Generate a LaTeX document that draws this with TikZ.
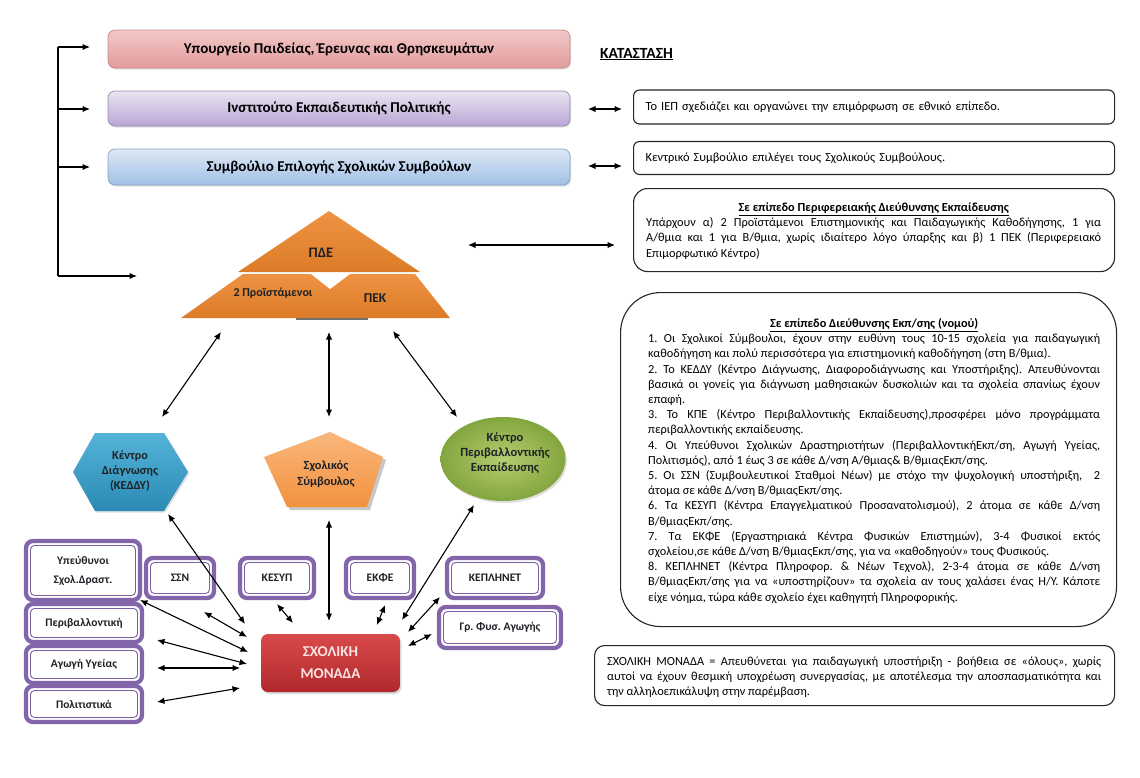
\documentclass[tikz,border=0pt]{standalone}
\usepackage{fontspec}
\setmainfont{Carlito}
\frenchspacing
\usetikzlibrary{arrows.meta,shapes.geometric,shadings,shadows}
\definecolor{pkT}{HTML}{F3C7C7}
\definecolor{pkB}{HTML}{E29C9C}
\definecolor{pkD}{HTML}{C98A8A}
\definecolor{puT}{HTML}{E9E5F1}
\definecolor{puB}{HTML}{B9A5D5}
\definecolor{puD}{HTML}{9A8AAE}
\definecolor{blT}{HTML}{DEE8F6}
\definecolor{blB}{HTML}{A0C0E6}
\definecolor{blD}{HTML}{8AA2C0}
\definecolor{orT}{HTML}{EE9343}
\definecolor{orB}{HTML}{DC7B27}
\definecolor{hxT}{HTML}{55B3D9}
\definecolor{hxB}{HTML}{2A8AB4}
\definecolor{peT}{HTML}{F9B77C}
\definecolor{peB}{HTML}{F3913F}
\definecolor{grI}{HTML}{B4CE70}
\definecolor{grO}{HTML}{83A53E}
\definecolor{rdT}{HTML}{D94A4A}
\definecolor{rdB}{HTML}{B0282C}
\definecolor{rdText}{HTML}{FBE2E2}
\definecolor{pfc}{HTML}{8366AA}
\definecolor{pfc2}{HTML}{7A5FA3}
\definecolor{txtd}{HTML}{1E2226}
\newcommand\pfbox[6]{%
  \node[pframe, minimum width=#4pt, minimum height=#5pt] (#1) at (#2,#3) {};
  \node[pinner, minimum width={#4-9}, minimum height={#5-9}] (#1t) at (#2,#3) {#6};
}
\begin{document}
\begin{tikzpicture}[x=1pt,y=-1pt,
  topbox/.style={rounded corners=7pt, minimum width=462pt, text=black, inner sep=0pt,
    font=\bfseries\fontsize{15}{18}\selectfont, line width=0.7pt,
    drop shadow={shadow xshift=1pt, shadow yshift=-1.5pt, opacity=0.25}},
  rbox/.style={draw=black!85, line width=1.1pt, fill=white},
  body/.style={font=\fontsize{12.3}{15.2}\selectfont, inner sep=0pt, align=justify},
  arr/.style={{Latex[length=7.5pt,width=6.5pt]}-{Latex[length=7.5pt,width=6.5pt]}, line width=1.1pt},
  rarr/.style={-{Latex[length=7.5pt,width=6.5pt]}, line width=1.1pt},
  pframe/.style={draw=pfc, line width=4.3pt, rounded corners=7pt, fill=white, inner sep=0pt},
  pinner/.style={draw=pfc2, line width=0.9pt, rounded corners=4pt, align=center, inner sep=0pt,
    text=txtd, font=\bfseries\fontsize{11.5}{19}\selectfont},
  lbl/.style={font=\bfseries\fontsize{12.2}{15}\selectfont, align=center, text=txtd, inner sep=0pt},
  pyr/.style={font=\bfseries\fontsize{14.5}{16}\selectfont, text=txtd, inner sep=0pt}
]
\useasboundingbox (0,0) rectangle (1140,777);

% ---------- top three boxes ----------
\node[topbox, top color=pkT, bottom color=pkB, draw=pkD, minimum height=38pt] (min) at (339,49)
  {Υπουργείο Παιδείας, Έρευνας και Θρησκευμάτων};
\node[topbox, top color=puT, bottom color=puB, draw=puD, minimum height=35pt] (iep) at (339,108.5)
  {Ινστιτούτο Εκπαιδευτικής Πολιτικής};
\node[topbox, top color=blT, bottom color=blB, draw=blD, minimum height=36pt] (sess) at (339,167)
  {Συμβούλιο Επιλογής Σχολικών Συμβούλων};

% ---------- left bracket ----------
\coordinate (brT) at (58,47);
\coordinate (brB) at (58,276);
\coordinate (br2) at (58,109);
\coordinate (br3) at (58,167);
\coordinate (e1) at (90,47);
\coordinate (e2) at (90,109);
\coordinate (e3) at (90,167);
\coordinate (e4) at (137,276);
\draw[line width=1.1pt] (brT) -- (brB);
\draw[rarr] (brT) -- (e1);
\draw[rarr] (br2) -- (e2);
\draw[rarr] (br3) -- (e3);
\draw[rarr] (brB) -- (e4);

% ---------- title ----------
\node[font=\bfseries\fontsize{15.5}{18}\selectfont, anchor=west, inner sep=0pt] (kat) at (600,54) {\underline{ΚΑΤΑΣΤΑΣΗ}};

% ---------- right boxes ----------
\node[rbox, rounded corners=6pt, anchor=west, minimum height=34pt, text width=457pt, inner xsep=12pt,
  font=\fontsize{12.4}{15}\selectfont, align=left] (r1) at (633,107)
  {Το ΙΕΠ σχεδιάζει και οργανώνει την επιμόρφωση σε εθνικό επίπεδο.};
\node[rbox, rounded corners=6pt, anchor=west, minimum height=33pt, text width=457pt, inner xsep=12pt,
  font=\fontsize{12.4}{15}\selectfont, align=left] (r2) at (633,158)
  {Κεντρικό Συμβούλιο επιλέγει τους Σχολικούς Συμβούλους.};
\node[rbox, rounded corners=14pt, anchor=north west, minimum width=481pt, minimum height=83pt] (r3) at (633,188) {};
\node[body, text width=455pt, anchor=base west] (r3t) at (646,211.5) {%
\centerline{\bfseries\underline{Σε επίπεδο Περιφερειακής Διεύθυνσης Εκπαίδευσης}}
Υπάρχουν α) 2 Προϊστάμενοι Επιστημονικής και Παιδαγωγικής Καθοδήγησης, 1 για\linebreak
Α/θμια και 1 για Β/θμια, χωρίς ιδιαίτερο λόγο ύπαρξης και β) 1 ΠΕΚ (Περιφερειακό\linebreak
Επιμορφωτικό Κέντρο)};

\coordinate (a1l) at (588,109);
\coordinate (a1r) at (622,109);
\coordinate (a2l) at (588,166);
\coordinate (a2r) at (622,166);
\coordinate (a3l) at (468,245);
\coordinate (a3r) at (615,245);
\draw[arr] (a1l) -- (a1r);
\draw[arr] (a2l) -- (a2r);
\draw[arr] (a3l) -- (a3r);

% ---------- big box ----------
\node[rbox, rounded corners=40pt, anchor=north west, minimum width=496pt, minimum height=334pt] (big) at (620,292) {};
\node[body, text width=452pt, anchor=base west] (bigt) at (648,327.5) {%
\centerline{\bfseries\underline{Σε επίπεδο Διεύθυνσης Εκπ/σης (νομού)}}
1. Οι Σχολικοί Σύμβουλοι, έχουν στην ευθύνη τους 10-15 σχολεία για παιδαγωγική\linebreak
καθοδήγηση και πολύ περισσότερα για επιστημονική καθοδήγηση (στη Β/θμια).\par
2. Το ΚΕΔΔΥ (Κέντρο Διάγνωσης, Διαφοροδιάγνωσης και Υποστήριξης). Απευθύνονται\linebreak
βασικά οι γονείς για διάγνωση μαθησιακών δυσκολιών και τα σχολεία σπανίως έχουν\linebreak
επαφή.\par
3. Το ΚΠΕ (Κέντρο Περιβαλλοντικής Εκπαίδευσης),προσφέρει μόνο προγράμματα\linebreak
περιβαλλοντικής εκπαίδευσης.\par
4. Οι Υπεύθυνοι Σχολικών Δραστηριοτήτων (ΠεριβαλλοντικήΕκπ/ση, Αγωγή Υγείας,\linebreak
Πολιτισμός), από 1 έως 3 σε κάθε Δ/νση Α/θμιας\& Β/θμιαςΕκπ/σης.\par
5. Οι ΣΣΝ (Συμβουλευτικοί Σταθμοί Νέων) με στόχο την ψυχολογική υποστήριξη, \ 2\linebreak
άτομα σε κάθε Δ/νση Β/θμιαςΕκπ/σης.\par
6. Τα ΚΕΣΥΠ (Κέντρα Επαγγελματικού Προσανατολισμού), 2 άτομα σε κάθε Δ/νση\linebreak
Β/θμιαςΕκπ/σης.\par
7. Τα ΕΚΦΕ (Εργαστηριακά Κέντρα Φυσικών Επιστημών), 3-4 Φυσικοί εκτός\linebreak
σχολείου,σε κάθε Δ/νση Β/θμιαςΕκπ/σης, για να «καθοδηγούν» τους Φυσικούς.\par
8. ΚΕΠΛΗΝΕΤ (Κέντρα Πληροφορ. \& Νέων Τεχνολ), 2-3-4 άτομα σε κάθε Δ/νση\linebreak
Β/θμιαςΕκπ/σης για να «υποστηρίζουν» τα σχολεία αν τους χαλάσει ένας Η/Υ. Κάποτε\linebreak
είχε νόημα, τώρα κάθε σχολείο έχει καθηγητή Πληροφορικής.};

% ---------- bottom right box ----------
\node[rbox, rounded corners=10pt, anchor=north west, minimum width=520pt, minimum height=60pt] (sb) at (594,645) {};
\node[body, text width=494pt, anchor=base west] (sbt) at (607,665) {%
ΣΧΟΛΙΚΗ ΜΟΝΑΔΑ = Απευθύνεται για παιδαγωγική υποστήριξη - βοήθεια σε «όλους», χωρίς\linebreak
αυτοί να έχουν θεσμική υποχρέωση συνεργασίας, με αποτέλεσμα την αποσπασματικότητα και\linebreak
την αλληλοεπικάλυψη στην παρέμβαση.};

% ---------- pyramid ----------
\shade[top color=orT, bottom color=orB] (329,211) -- (420,272) -- (238,272) -- cycle;
\shade[top color=orT, bottom color=orB] (243,274) -- (415,274) -- (450,318) -- (181,318) -- cycle;
\fill[white] (311,274) -- (350,274) -- (330,289) -- cycle;
\draw[black!55, line width=2pt] (296,318.5) -- (368,318.5);
\node[pyr] (pde) at (321,253) {ΠΔΕ};
\node[pyr, font=\bfseries\fontsize{12}{14}\selectfont] (pro) at (273,293) {2 Προϊστάμενοι};
\node[pyr, font=\bfseries\fontsize{13.5}{16}\selectfont] (pek) at (375,298) {ΠΕΚ};

% ---------- hexagon ----------
\shade[top color=hxT, bottom color=hxB, drop shadow={opacity=0.25, shadow xshift=1.5pt, shadow yshift=-1.5pt}]
  (73,472) -- (95,433) -- (164,433) -- (188,472) -- (164,511) -- (95,511) -- cycle;
\node[lbl, font=\bfseries\fontsize{12.2}{15}\selectfont] (keddy) at (130,471) {Κέντρο\\Διάγνωσης\\(ΚΕΔΔΥ)};

% ---------- pentagon ----------
\fill[black!22] (333,435) -- (386,460) -- (370,510) -- (290,510) -- (267,460) -- cycle;
\shade[top color=peT, bottom color=peB] (330,432) -- (383,457) -- (367,507) -- (287,507) -- (264,457) -- cycle;
\node[lbl, font=\bfseries\fontsize{12.4}{16}\selectfont] (ss) at (326,474) {Σχολικός\\Σύμβουλος};

% ---------- ellipse ----------
\node[ellipse, minimum width=125pt, minimum height=84pt, inner sep=0pt, inner color=grI, outer color=grO,
  drop shadow={opacity=0.25, shadow xshift=1.5pt, shadow yshift=-2pt}] (kpe) at (503,459) {};
\node[lbl, font=\bfseries\fontsize{12.5}{15}\selectfont] (kpet) at (505,453) {Κέντρο\\Περιβαλλοντικής\\Εκπαίδευσης};

% ---------- pyramid arrows ----------
\coordinate (p1a) at (221,332); \coordinate (p1b) at (162,417);
\coordinate (p2a) at (329,332); \coordinate (p2b) at (329,417);
\coordinate (p3a) at (393,331); \coordinate (p3b) at (457,417);
\draw[arr] (p1a) -- (p1b);
\draw[arr] (p2a) -- (p2b);
\draw[arr] (p3a) -- (p3b);

% ---------- school unit ----------
\node[rounded corners=7pt, top color=rdT, bottom color=rdB, minimum width=139pt, minimum height=58pt,
  text=rdText, font=\bfseries\fontsize{15}{22}\selectfont, align=center, inner sep=0pt,
  drop shadow={opacity=0.3, shadow xshift=1.5pt, shadow yshift=-2pt}] (sm) at (330.5,663) {ΣΧΟΛΙΚΗ\\ΜΟΝΑΔΑ};

% ---------- purple framed boxes ----------
\pfbox{ysd}{83}{570.5}{114}{59}{Υπεύθυνοι\\Σχολ.Δραστ.}
\pfbox{ssn}{180}{578}{68}{40}{ΣΣΝ}
\pfbox{kesyp}{277}{578}{74}{40}{ΚΕΣΥΠ}
\pfbox{ekfe}{380}{578}{68}{40}{ΕΚΦΕ}
\pfbox{kepl}{495}{578}{96}{40}{ΚΕΠΛΗΝΕΤ}
\pfbox{gfa}{500}{627.5}{122}{41}{Γρ. Φυσ. Αγωγής}
\pfbox{per}{84}{623}{116}{38}{Περιβαλλοντική}
\pfbox{agy}{84}{664.5}{116}{37}{Αγωγή Υγείας}
\pfbox{pol}{84}{704}{116}{36}{Πολιτιστικά}

% ---------- bottom arrows ----------
\coordinate (b1a) at (168,514); \coordinate (b1b) at (245,624);
\coordinate (b2a) at (329,520); \coordinate (b2b) at (329,621);
\coordinate (b3a) at (474,505); \coordinate (b3b) at (402,620);
\coordinate (b4a) at (140,600); \coordinate (b4b) at (248,652);
\coordinate (b5a) at (204,612); \coordinate (b5b) at (247,637);
\coordinate (b6a) at (157,640); \coordinate (b6b) at (247,664);
\coordinate (b7a) at (157,668); \coordinate (b7b) at (240,668);
\coordinate (b8a) at (157,702); \coordinate (b8b) at (240,688);
\coordinate (b9a) at (277,604); \coordinate (b9b) at (293,623);
\coordinate (b10a) at (385,605); \coordinate (b10b) at (377,625);
\coordinate (b11a) at (440,597); \coordinate (b11b) at (408,632);
\coordinate (b12a) at (432,634); \coordinate (b12b) at (408,646);
\foreach \i in {1,...,12} {\draw[arr] (b\i a) -- (b\i b);}
\end{tikzpicture}
\end{document}
